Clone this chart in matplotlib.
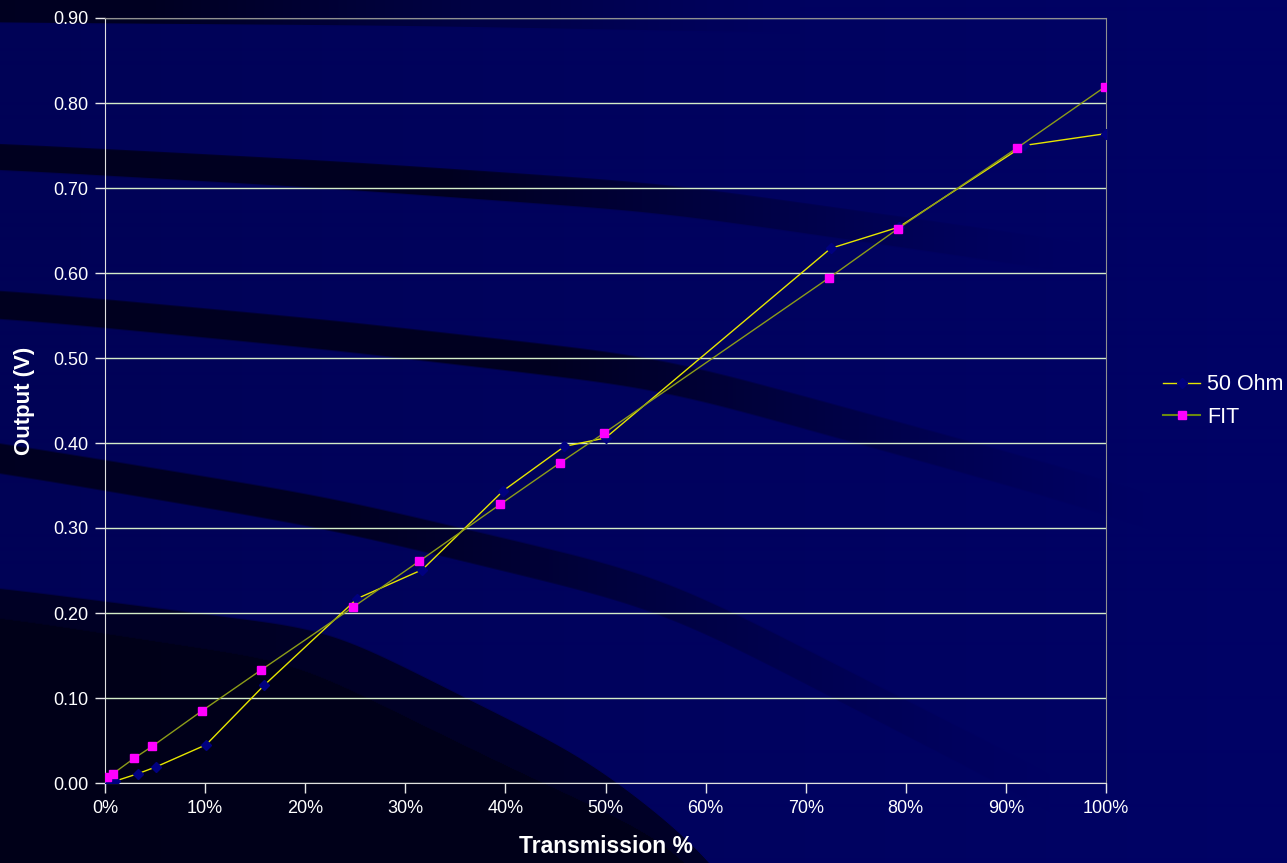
import numpy as np
import matplotlib
matplotlib.use("Agg")
import matplotlib.pyplot as plt
from matplotlib.lines import Line2D

plt.rcParams['font.family'] = ['Liberation Sans', 'DejaVu Sans']

# ---------------- data ----------------
ohm50_x = [0.5, 0.95, 3.3, 5.1, 10.1, 15.9, 25.2, 31.7, 39.8, 45.9, 50.0, 72.5, 79.3, 91.8, 100.0]
ohm50_y = [0.000, 0.002, 0.011, 0.019, 0.045, 0.115, 0.217, 0.251, 0.344, 0.396, 0.406, 0.629, 0.654, 0.750, 0.764]

fit_x = [0.2, 0.8, 2.9, 4.7, 9.7, 15.6, 24.8, 31.4, 39.5, 45.5, 49.9, 72.3, 79.2, 91.1, 99.9]
fit_y = [0.007, 0.011, 0.029, 0.043, 0.085, 0.133, 0.207, 0.261, 0.328, 0.377, 0.412, 0.594, 0.652, 0.747, 0.819]

series_names = ["50 Ohm", "FIT"]
x_ticks = list(range(0, 101, 10))
x_tick_labels = [f"{t}%" for t in x_ticks]
y_ticks = [i / 10 for i in range(10)]
y_tick_labels = [f"{t:.2f}" for t in y_ticks]
x_title = "Transmission %"
y_title = "Output (V)"

# ---------------- figure ----------------
W, H = 1287, 863
fig = plt.figure(figsize=(W / 100, H / 100), dpi=100)

# decorative background (navy with dark swooshes)
yy, xx = np.mgrid[0:H, 0:W].astype(float)
base = 0x56 + (0x66 - 0x56) * xx / W
d = np.zeros((H, W))

def curve(xp, yp, sigma=60):
    pad = 400
    xs = np.arange(-pad, W + pad, dtype=float)
    ys = np.interp(xs, xp, yp)
    k = np.arange(-3 * sigma, 3 * sigma + 1)
    g = np.exp(-0.5 * (k / sigma) ** 2)
    g /= g.sum()
    ysm = np.convolve(ys, g, mode='same')
    col = ysm[pad:pad + W]
    return np.broadcast_to(col[None, :], (H, W))

def band(xp, cp, h, f0, f1, s):
    c = curve(xp, cp)
    hh = h * (1 + 0.25 * xx / W)
    inside = np.clip(hh - np.abs(yy - c) + 0.5, 0, 1)
    fade = np.clip((f1 - xx) / (f1 - f0), 0, 1) ** 1.3
    return inside * s * fade

d = np.maximum(d, band([-200, 0, 400, 800, 1200], [6, 8, 10, 16, 24], 15, 150, 800, 0.78))
d = np.maximum(d, band([-200, 0, 330, 660, 1060, 1300], [150, 157, 175, 198, 255, 300], 13, 450, 1080, 0.8))
d = np.maximum(d, band([-200, 0, 330, 660, 1067, 1300], [296, 304, 335, 373, 485, 560], 14, 550, 1150, 0.8))
d = np.maximum(d, band([-200, 0, 330, 660, 1067, 1300], [430, 458, 513, 592, 800, 950], 15, 350, 1050, 0.78))
upperE = curve([-200, 0, 330, 590, 720, 900], [570, 588, 630, 760, 863, 1150], 40)
cornerB = curve([-200, 0, 295, 495, 660, 700, 850], [600, 617, 662, 760, 837, 863, 1100], 40)
dE = np.clip(yy - upperE + 0.5, 0, 1) * 0.72
dC = np.clip(yy - cornerB + 0.5, 0, 1) * 0.9
d = np.maximum(d, np.maximum(dE, dC))
blue = base * (1 - d) + 0x12 * d
img = np.zeros((H, W, 3))
img[..., 2] = blue / 255.0
img[..., 1] = (2 * (1 - d)) / 255.0

bg = fig.add_axes([0, 0, 1, 1], zorder=0)
bg.imshow(img, aspect='auto', interpolation='bilinear')
bg.set_axis_off()

# plot axes
ax = fig.add_axes([105 / W, 80 / H, 1001 / W, 765 / H], zorder=1)
ax.set_facecolor('none')
ax.set_xlim(0, 100)
ax.set_ylim(0, 0.9)

ax.set_yticks(y_ticks)
ax.set_yticklabels(y_tick_labels)
ax.set_xticks(x_ticks)
ax.set_xticklabels(x_tick_labels)
ax.tick_params(colors='#e8e8e8', labelcolor='white', labelsize=13, length=7, width=1, direction='out', pad=5)
ax.yaxis.grid(True, color='#d4ecc8', linewidth=1.0)
ax.set_axisbelow(True)

for s in ['left', 'bottom']:
    ax.spines[s].set_color('#e0e0e0')
for s in ['top', 'right']:
    ax.spines[s].set_color('#909090')

ax.plot(ohm50_x, ohm50_y, color='#e6e600', linewidth=1.0, marker='D', markersize=5,
        markerfacecolor='#000080', markeredgecolor='#000080', zorder=3, label=series_names[0])
ax.plot(fit_x, fit_y, color='#8c9c18', linewidth=1.0, marker='s', markersize=6,
        markerfacecolor='#ff00ff', markeredgecolor='#ff00ff', zorder=3, label=series_names[1])

ax.set_xlabel(x_title, color='white', fontsize=16.5, fontweight='bold', labelpad=13)
ax.set_ylabel(y_title, color='white', fontsize=16, fontweight='bold', labelpad=13)

handles = [
    Line2D([], [], color='#e6e600', linewidth=1.0, marker='D', markersize=5,
           markerfacecolor='#000080', markeredgecolor='#000080'),
    Line2D([], [], color='#6a8a10', linewidth=1.5, marker='s', markersize=6,
           markerfacecolor='#ff00ff', markeredgecolor='#ff00ff'),
]
leg = fig.legend(handles, series_names, loc='center left', bbox_to_anchor=(1152 / W, 1 - 401 / H),
                 frameon=False, fontsize=15.5, handlelength=1.75, handletextpad=0.3,
                 labelspacing=0.55, borderpad=0)
for t in leg.get_texts():
    t.set_color('white')

fig.savefig('out.png', dpi=100)
